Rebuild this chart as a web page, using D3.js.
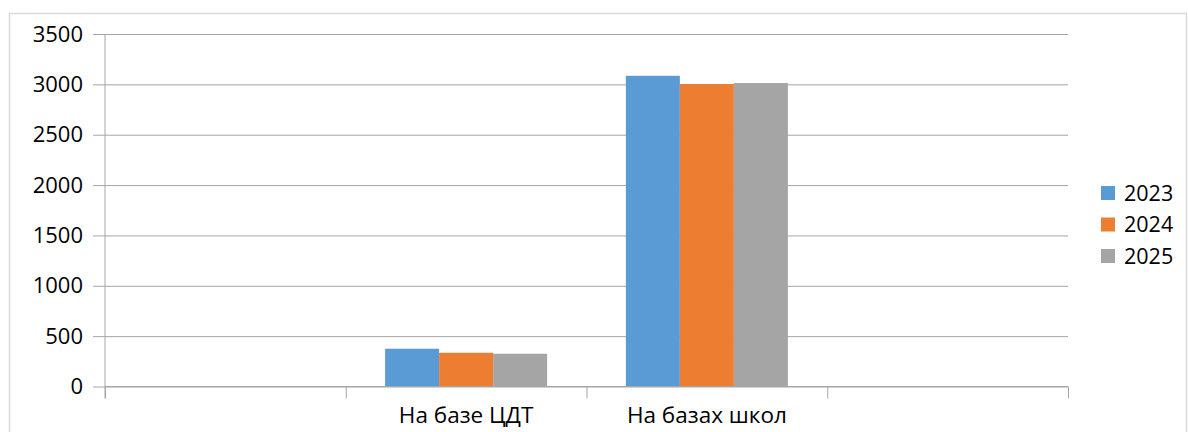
<!DOCTYPE html>
<html>
<head>
<meta charset="utf-8">
<script src="https://cdn.jsdelivr.net/npm/d3@7"></script>
<style>
  html, body { margin: 0; padding: 0; background: #fff; }
  svg { display: block; font-family: "Open Sans", sans-serif; }
  .domain { display: none; }
</style>
</head>
<body>
<div id="chart"></div>
<script>
// categories (first and last slots are empty in the source chart)
const categories = ["", "На базе ЦДТ", "На базах школ", ""];
const series = ["2023", "2024", "2025"];
const values2023 = [null, 375, 3085, null];
const values2024 = [null, 335, 3003, null];
const values2025 = [null, 325, 3013, null];
const yTicks = [0, 500, 1000, 1500, 2000, 2500, 3000, 3500];
const colors = ["#5B9BD5", "#ED7D31", "#A5A5A5"];

const width = 1188;
const height = 432;
const plot = { left: 105, right: 1068, top: 34, bottom: 386.5 };

const svg = d3
  .select("#chart")
  .append("svg")
  .attr("width", width)
  .attr("height", height);

// outer chart frame
svg
  .append("rect")
  .attr("x", 9.5)
  .attr("y", 13.5)
  .attr("width", 1177)
  .attr("height", 440)
  .attr("fill", "none")
  .attr("stroke", "#d9d9d9")
  .attr("stroke-width", 1.5);

const yScale = d3
  .scaleLinear()
  .domain([0, 3500])
  .range([plot.bottom, plot.top]);

const xScale = d3
  .scaleBand()
  .domain(d3.range(categories.length))
  .range([plot.left, plot.right])
  .padding(0);

const inner = d3
  .scaleBand()
  .domain(series)
  .range([0, xScale.bandwidth()])
  .paddingInner(0)
  .paddingOuter(0.729);

// gridlines
svg
  .append("g")
  .attr("transform", `translate(${plot.left},0)`)
  .call(d3.axisLeft(yScale).tickValues(yTicks).tickFormat("").tickSize(-(plot.right - plot.left)))
  .call((g) => g.selectAll("line").attr("stroke", "#a6a6a6"));

// bars
const table = series.map((s, i) => ({
  name: s,
  color: colors[i],
  values: [values2023, values2024, values2025][i],
}));

svg
  .append("g")
  .selectAll("g")
  .data(table)
  .join("g")
  .attr("fill", (d) => d.color)
  .selectAll("rect")
  .data((d) => d.values.map((v, i) => ({ name: d.name, v, i })).filter((d) => d.v != null))
  .join("rect")
  .attr("x", (d) => xScale(d.i) + inner(d.name))
  .attr("y", (d) => yScale(d.v))
  .attr("width", inner.bandwidth())
  .attr("height", (d) => yScale(0) - yScale(d.v));

// y axis
svg
  .append("g")
  .attr("transform", `translate(${plot.left},0)`)
  .call(d3.axisLeft(yScale).tickValues(yTicks).tickFormat(d3.format("d")).tickSize(12).tickPadding(10))
  .call((g) => g.selectAll("line").attr("stroke", "#a6a6a6"))
  .call((g) => g.selectAll("text").attr("font-size", 22).attr("font-family", "Open Sans").attr("fill", "#000"));

svg
  .append("line")
  .attr("x1", plot.left)
  .attr("x2", plot.left)
  .attr("y1", plot.top)
  .attr("y2", plot.bottom + 12)
  .attr("stroke", "#a6a6a6");

// x axis line and category boundary ticks
const boundary = d3.scaleLinear().domain([0, categories.length]).range([plot.left, plot.right]);
svg
  .append("g")
  .attr("transform", `translate(0,${plot.bottom})`)
  .call(d3.axisBottom(boundary).tickValues(d3.range(categories.length + 1)).tickFormat("").tickSize(12))
  .call((g) => g.selectAll("line").attr("stroke", "#a6a6a6"));

svg
  .append("line")
  .attr("x1", plot.left)
  .attr("x2", plot.right)
  .attr("y1", plot.bottom)
  .attr("y2", plot.bottom)
  .attr("stroke", "#a6a6a6");

// category labels
svg
  .append("g")
  .attr("transform", `translate(0,${plot.bottom})`)
  .call(d3.axisBottom(xScale).tickFormat((i) => categories[i]).tickSize(0).tickPadding(21))
  .call((g) => g.selectAll("line").remove())
  .call((g) => g.selectAll("text").attr("font-size", 22.5).attr("font-family", "Open Sans").attr("fill", "#000"));

// legend
const legend = svg
  .append("g")
  .selectAll("g")
  .data(table)
  .join("g")
  .attr("transform", (d, i) => `translate(1101,${193 + i * 31.5})`);

legend
  .append("rect")
  .attr("x", 0)
  .attr("y", -7)
  .attr("width", 14)
  .attr("height", 14)
  .attr("fill", (d) => d.color);

legend
  .append("text")
  .attr("x", 23)
  .attr("y", 0)
  .attr("dy", "0.36em")
  .attr("font-size", 21.5)
  .attr("fill", "#000")
  .text((d) => d.name);
</script>
</body>
</html>
